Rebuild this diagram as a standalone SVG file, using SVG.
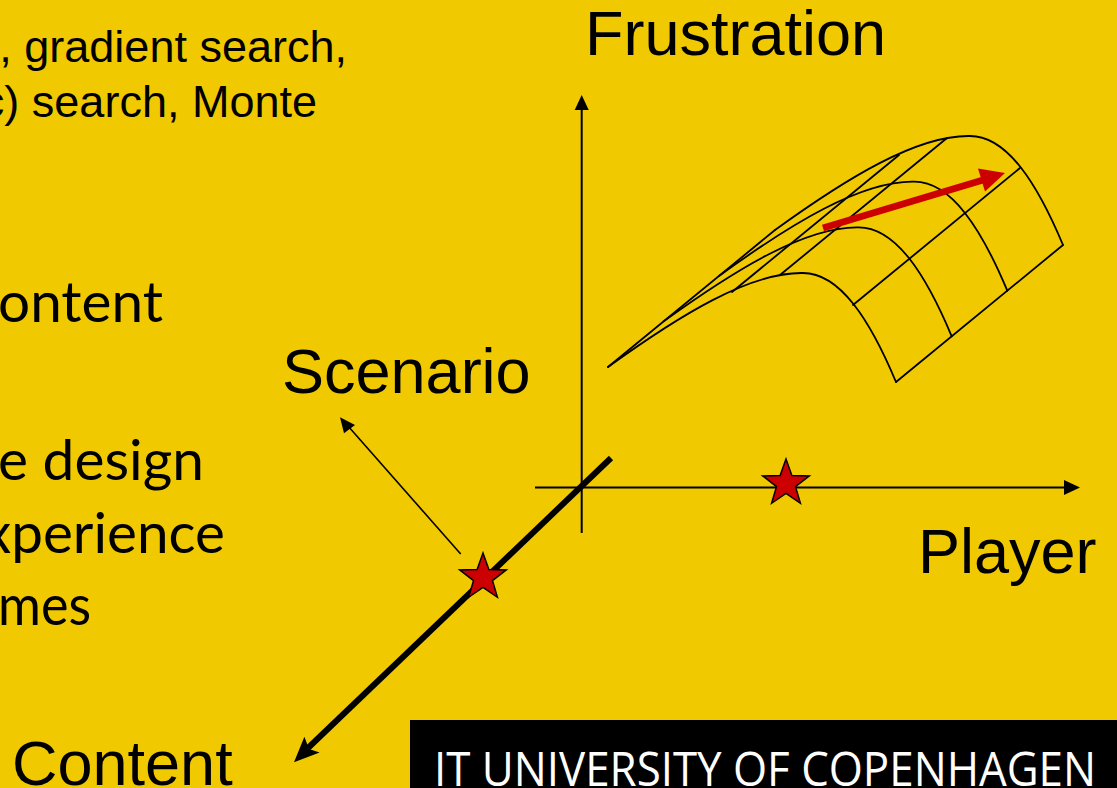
<svg xmlns="http://www.w3.org/2000/svg" xmlns:xlink="http://www.w3.org/1999/xlink" width="1117" height="788" viewBox="0 0 1117 788">
<style>
.bg{fill:#F0C900}
.ax{stroke:#000;stroke-width:2;fill:none}
.wire{stroke:#000;stroke-width:1.8;fill:none;stroke-linecap:round}
.head{fill:#000}
.arial{font-family:"Liberation Sans",Arial,sans-serif;fill:#000}
.big{font-size:63px}
.small{font-size:45px}
.cal{font-family:Lato,"Open Sans",sans-serif;font-size:57px;fill:#000}
.star{fill:#CC0000;stroke:#000;stroke-width:1.5;stroke-linejoin:miter}
.foot{font-family:"Open Sans",Lato,sans-serif;font-size:48px;fill:#fff}
</style>
<defs>
<path id="arch" d="M608,367 C680,315 750,272 803,273 C840,273 870,320 896,382"/>
<polygon id="star" points="0,-24.5 5.88,-8.09 23.3,-7.57 9.51,3.09 14.4,19.8 0,10 -14.4,19.8 -9.51,3.09 -23.3,-7.57 -5.88,-8.09"/>
</defs>
<rect class="bg" x="0" y="0" width="1117" height="788"/>

<g id="bullet-text">
<text class="arial small" x="347" y="62" text-anchor="end">, gradient search,</text>
<text class="arial small" x="317" y="117" text-anchor="end">c) search, Monte</text>
<text class="cal" x="-2" y="322" textLength="165" lengthAdjust="spacingAndGlyphs">ontent</text>
<text class="cal" x="-2" y="480" textLength="206" lengthAdjust="spacingAndGlyphs">e design</text>
<text class="cal" x="-17" y="553" textLength="242" lengthAdjust="spacingAndGlyphs">xperience</text>
<text class="cal" x="-2" y="625" textLength="93" lengthAdjust="spacingAndGlyphs">mes</text>
</g>

<g id="surface">
<use xlink:href="#arch" class="wire"/>
<use xlink:href="#arch" class="wire" transform="translate(55.7,-45.7)"/>
<use xlink:href="#arch" class="wire" transform="translate(111.3,-91.3)"/>
<use xlink:href="#arch" class="wire" transform="translate(167,-137)"/>
<line class="wire" x1="608" y1="367" x2="775" y2="230"/>
<line class="wire" x1="732" y1="292" x2="899" y2="155"/>
<line class="wire" x1="780" y1="275" x2="947" y2="138"/>
<line class="wire" x1="853" y1="305" x2="1020" y2="168"/>
<line class="wire" x1="896" y1="382" x2="1063" y2="245"/>
</g>

<g id="connectors">
<!-- Frustration axis -->
<line class="ax" x1="581.7" y1="533" x2="581.7" y2="108"/>
<polygon class="head" points="581.7,95 574.7,110 588.7,110"/>
<!-- Player axis -->
<line class="ax" x1="535" y1="487.5" x2="1066" y2="487.5"/>
<polygon class="head" points="1080,487.5 1064,480 1064,495"/>
<!-- Content axis -->
<line x1="611" y1="458" x2="308" y2="748" stroke="#000" stroke-width="6"/>
<polygon class="head" points="294,762.3 304.4,736.8 309,749 319.6,752.6"/>
<!-- Scenario arrow -->
<line x1="460.7" y1="554" x2="348" y2="426" stroke="#000" stroke-width="1.6"/>
<polygon class="head" points="340,417.3 344,433.3 355,425"/>
<!-- red gradient arrow -->
<line x1="823" y1="228" x2="983" y2="180" stroke="#CC0000" stroke-width="7"/>
<polygon points="1005,173 978,168.5 985,191.5" fill="#CC0000"/>
</g>

<g id="stars">
<use xlink:href="#star" class="star" transform="translate(483,577.5)"/>
<use xlink:href="#star" class="star" transform="translate(786,483.5)"/>
</g>

<g id="labels">
<text class="arial big" x="585" y="55">Frustration</text>
<text class="arial big" x="282" y="393">Scenario</text>
<text class="arial big" x="918" y="573">Player</text>
<text class="arial big" x="12" y="785">Content</text>
</g>

<g id="footer">
<rect x="410" y="720" width="707" height="68" fill="#000"/>
<text class="foot" x="434" y="786" textLength="662" lengthAdjust="spacingAndGlyphs">IT UNIVERSITY OF COPENHAGEN</text>
</g>
</svg>
